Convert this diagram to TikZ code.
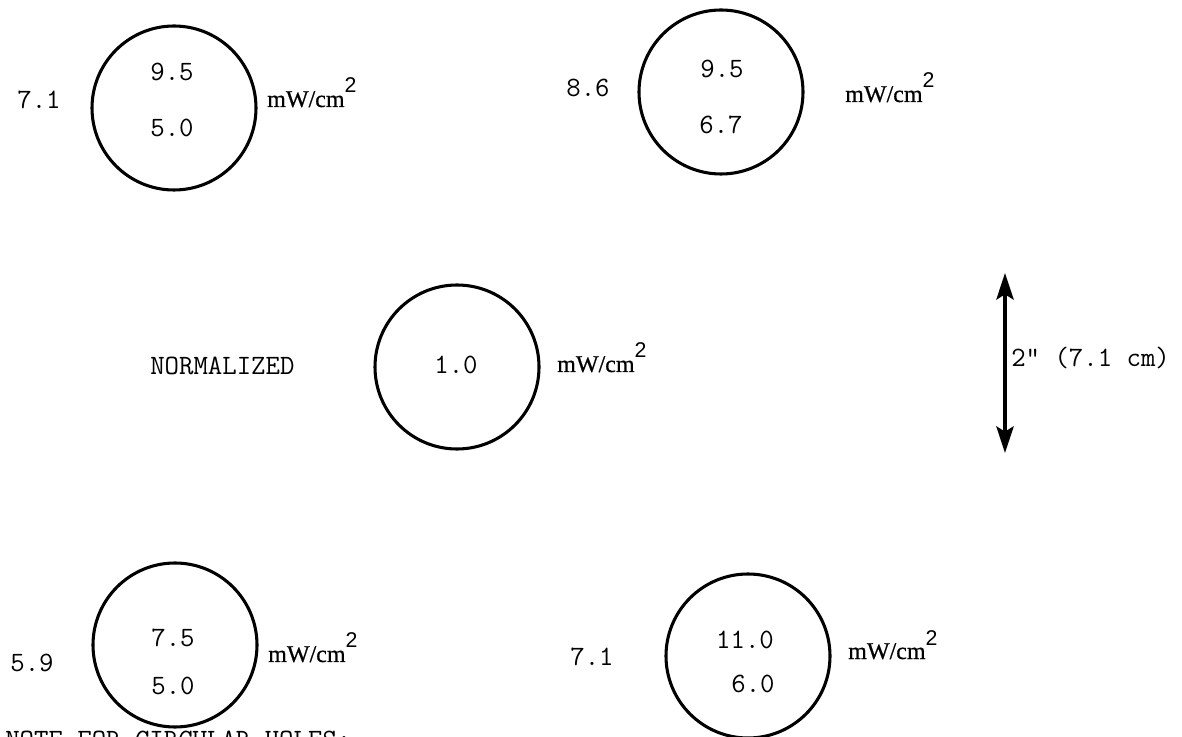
\documentclass[tikz,border=0pt]{standalone}
\usepackage{fontspec}
\newfontfamily\unitfont[FakeBold=0.6]{Liberation Serif}
\newfontfamily\supfont{Liberation Sans}
\usetikzlibrary{arrows.meta}
\newcommand\mwcm{mW/cm\raisebox{10.5pt}{\supfont\fontsize{16}{16}\selectfont 2}}
\begin{document}
\begin{tikzpicture}[x=0.75pt,y=-0.75pt,
  hole/.style={circle,draw,line width=2.3pt,minimum size=123pt,inner sep=0pt},
  val/.style={inner sep=0pt,font=\fontsize{21}{25}\selectfont\ttfamily\addfontfeatures{FakeBold=1.2}},
  unit/.style={inner sep=0pt,anchor=base west,font=\fontsize{18}{22}\selectfont\unitfont},
  dimarrow/.style={line width=2.4pt,{Stealth[length=20pt,width=13pt,inset=4pt]}-{Stealth[length=20pt,width=13pt,inset=4pt]}},
]
\useasboundingbox (0,0) rectangle (1182,737);
\clip (0,0) rectangle (1182,737);

% top left
\node[hole] (c1) at (174,108) {};
\node[val] (c1a) at (172,72) {9.5};
\node[val] (c1b) at (172,128) {5.0};
\node[val] (c1l) at (39,100) {7.1};
\node[unit] (c1u) at (267,107) {\mwcm};

% top right
\node[hole] (c2) at (721,92) {};
\node[val] (c2a) at (722,69) {9.5};
\node[val] (c2b) at (721,125) {6.7};
\node[val] (c2l) at (588,88) {8.6};
\node[unit] (c2u) at (845,102) {\mwcm};

% centre
\node[hole] (c3) at (457,367) {};
\node[val] (c3a) at (456,365) {1.0};
\node[val,anchor=base west] (norm) at (150,375) {NORMALIZED};
\node[unit] (c3u) at (557,372) {\mwcm};

% bottom left
\node[hole] (c4) at (175,645) {};
\node[val] (c4a) at (173,638) {7.5};
\node[val] (c4b) at (173,686) {5.0};
\node[val] (c4l) at (32,663) {5.9};
\node[unit] (c4u) at (268,662) {\mwcm};

% bottom right
\node[hole] (c5) at (748,656) {};
\node[val] (c5a) at (745,640) {11.0};
\node[val] (c5b) at (753,684) {6.0};
\node[val] (c5l) at (592,657) {7.1};
\node[unit] (c5u) at (848,659) {\mwcm};

% scale arrow
\coordinate (atop) at (1005,273);
\coordinate (abot) at (1005,453);
\draw[dimarrow] (atop) -- (abot);
\node[val,anchor=base west] (scale) at (1011,367) {2" (7.1 cm)};

% cut-off note (page edge cuts it, as in the reference)
\node[val,anchor=base west] (note) at (5,748) {NOTE FOR CIRCULAR HOLES:};
\end{tikzpicture}
\end{document}
